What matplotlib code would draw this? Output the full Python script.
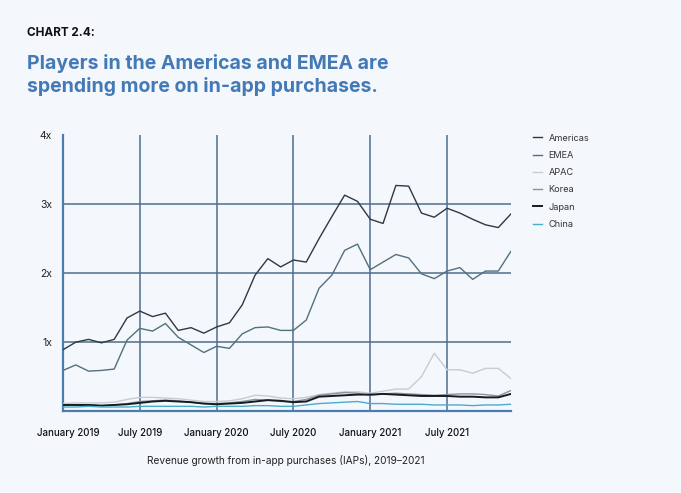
import numpy as np
import matplotlib.pyplot as plt
import matplotlib.transforms as mtransforms

plt.rcParams['font.family'] = ['Inter', 'DejaVu Sans']

months = np.arange(36)
tick_pos = [0, 6, 12, 18, 24, 30]
tick_labels = ['January 2019', 'July 2019', 'January 2020', 'July 2020', 'January 2021', 'July 2021']

americas = [0.89, 1.00, 1.04, 0.99, 1.04, 1.35, 1.45, 1.37, 1.42, 1.17, 1.21, 1.13,
            1.22, 1.28, 1.54, 1.97, 2.21, 2.09, 2.19, 2.16, 2.50, 2.82, 3.13, 3.04,
            2.78, 2.72, 3.27, 3.26, 2.87, 2.81, 2.94, 2.87, 2.78, 2.70, 2.66, 2.86]
emea = [0.59, 0.67, 0.58, 0.59, 0.61, 1.03, 1.20, 1.16, 1.27, 1.07, 0.96, 0.85,
        0.94, 0.91, 1.12, 1.21, 1.22, 1.17, 1.17, 1.32, 1.78, 1.97, 2.33, 2.42,
        2.05, 2.16, 2.27, 2.22, 1.99, 1.92, 2.03, 2.08, 1.91, 2.03, 2.03, 2.32]
apac = [0.11, 0.12, 0.12, 0.12, 0.13, 0.17, 0.20, 0.20, 0.19, 0.18, 0.16, 0.14,
        0.14, 0.15, 0.18, 0.23, 0.22, 0.19, 0.18, 0.20, 0.24, 0.26, 0.28, 0.28,
        0.26, 0.29, 0.32, 0.32, 0.50, 0.84, 0.60, 0.60, 0.55, 0.62, 0.62, 0.47]
korea = [0.08, 0.09, 0.09, 0.08, 0.09, 0.11, 0.14, 0.15, 0.16, 0.15, 0.13, 0.11,
         0.11, 0.12, 0.14, 0.17, 0.16, 0.14, 0.14, 0.17, 0.23, 0.25, 0.27, 0.26,
         0.23, 0.25, 0.26, 0.25, 0.24, 0.23, 0.24, 0.25, 0.25, 0.24, 0.22, 0.30]
japan = [0.09, 0.09, 0.09, 0.08, 0.09, 0.10, 0.12, 0.14, 0.15, 0.14, 0.13, 0.11,
         0.10, 0.11, 0.12, 0.14, 0.16, 0.15, 0.13, 0.14, 0.21, 0.22, 0.23, 0.24,
         0.24, 0.25, 0.24, 0.23, 0.22, 0.22, 0.22, 0.21, 0.21, 0.20, 0.20, 0.25]
china = [0.06, 0.06, 0.07, 0.06, 0.06, 0.06, 0.07, 0.07, 0.07, 0.07, 0.07, 0.06,
         0.07, 0.07, 0.07, 0.08, 0.08, 0.07, 0.07, 0.09, 0.11, 0.12, 0.13, 0.14,
         0.11, 0.11, 0.10, 0.10, 0.10, 0.09, 0.09, 0.09, 0.08, 0.09, 0.09, 0.10]

series = [
    ('Americas', americas, '#2e3a40', 1.0),
    ('EMEA', emea, '#52707e', 1.0),
    ('APAC', apac, '#c9cccf', 1.0),
    ('Korea', korea, '#8a949b', 1.0),
    ('Japan', japan, '#151b20', 1.4),
    ('China', china, '#4aaccc', 1.0),
]

bg = '#f4f7fb'
grid_c = '#4d6e8f'
axis_c = '#4b7eb0'

fig = plt.figure(figsize=(6.81, 4.93), dpi=100, facecolor=bg)
ax = fig.add_axes([0.0925, 0.166, 0.658, 0.560])
ax.set_facecolor(bg)

for name, vals, col, lw in series:
    ax.plot(months, vals, color=col, lw=lw, label=name, zorder=3)

ax.set_xlim(0, 35)
ax.set_ylim(0, 4)
ax.set_yticks([1, 2, 3, 4])
ax.set_yticklabels(['1x', '2x', '3x', '4x'])
ax.set_xticks(tick_pos)
ax.set_xticklabels(tick_labels)
for y in [1, 2, 3]:
    ax.axhline(y, color=grid_c, lw=1.1, zorder=1)
for x in tick_pos[1:]:
    ax.axvline(x, color=grid_c, lw=1.1, zorder=1)

for s in ['top', 'right']:
    ax.spines[s].set_visible(False)
ax.spines['left'].set_color(axis_c)
ax.spines['left'].set_linewidth(1.6)
ax.spines['bottom'].set_color(axis_c)
ax.spines['bottom'].set_linewidth(1.6)
ax.tick_params(length=0)
ax.tick_params(axis='y', pad=8, labelsize=7.5, labelcolor='#222222')
ax.tick_params(axis='x', pad=12, labelsize=7, labelcolor='#111111')
for t in ax.get_xticklabels():
    t.set_fontweight('medium')
first = ax.get_xticklabels()[0]
first.set_transform(first.get_transform() +
                    mtransforms.ScaledTranslation(5 / 100, 0, fig.dpi_scale_trans))

leg = ax.legend(loc='upper left', bbox_to_anchor=(1.03, 1.035), frameon=False,
                fontsize=6.6, handlelength=1.0, labelspacing=0.9,
                handletextpad=0.7, labelcolor='#333333')

fig.text(0.040, 0.933, 'CHART 2.4:', fontsize=8.5, fontweight='bold',
         color='#111111', va='center')
fig.text(0.040, 0.848, 'Players in the Americas and EMEA are\nspending more on in-app purchases.',
         fontsize=14, fontweight='bold', color='#4279b6', va='center',
         linespacing=1.3)
fig.text(0.42, 0.066, 'Revenue growth from in-app purchases (IAPs), 2019\u20132021',
         fontsize=7.3, color='#222222', ha='center', va='center')

fig.savefig('out.png', dpi=100, facecolor=bg)
